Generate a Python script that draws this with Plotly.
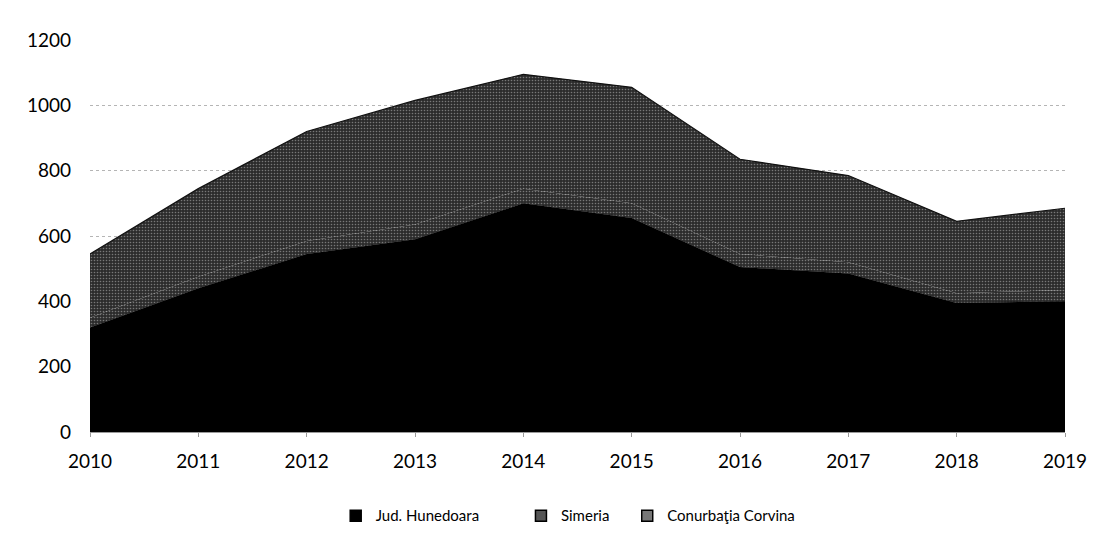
import plotly.graph_objects as go

years = [2010, 2011, 2012, 2013, 2014, 2015, 2016, 2017, 2018, 2019]
hunedoara = [320, 440, 545, 590, 700, 655, 505, 485, 395, 400]
simeria = [30, 35, 40, 45, 45, 45, 40, 35, 30, 35]
corvina = [195, 270, 335, 380, 350, 355, 290, 265, 220, 250]
y_ticks = [0, 200, 400, 600, 800, 1000, 1200]

font_family = "Lato, 'Open Sans', sans-serif"

# grey speckled fill, like the scanned hatching
speckle = dict(shape=".", fgcolor="#c4c4c4", bgcolor="#2c2c2c", size=3, solidity=0.22)

fig = go.Figure()
fig.add_trace(go.Scatter(
    x=years, y=hunedoara, name="Jud. Hunedoara", stackgroup="one",
    mode="lines", line=dict(color="#000000", width=0.5),
    fillcolor="#000000", showlegend=False,
))
fig.add_trace(go.Scatter(
    x=years, y=simeria, name="Simeria", stackgroup="one",
    mode="lines", line=dict(color="#2c2c2c", width=0),
    fillcolor="#2c2c2c", fillpattern=speckle, showlegend=False,
))
fig.add_trace(go.Scatter(
    x=years, y=corvina, name="Conurbaţia Corvina", stackgroup="one",
    mode="lines", line=dict(color="#111111", width=1.2),
    fillcolor="#2c2c2c", fillpattern=speckle, showlegend=False,
))

# legend entries with square keys, one small legend each so they can be spaced like the original
legend_keys = [("Jud. Hunedoara", "#000000", "legend", 0.252),
               ("Simeria", "#555555", "legend2", 0.442),
               ("Conurbaţia Corvina", "#777777", "legend3", 0.551)]
for name, col, leg, _ in legend_keys:
    fig.add_trace(go.Scatter(
        x=[None], y=[None], mode="markers", name=name, legend=leg,
        marker=dict(symbol="square", size=11, color=col, line=dict(color="#000000", width=1.5)),
    ))

legend_style = dict(orientation="h", xanchor="left", y=-0.214, yanchor="middle",
                    font=dict(size=15), itemwidth=30, bgcolor="rgba(0,0,0,0)")

fig.update_layout(
    width=1080, height=524,
    margin=dict(l=82, r=23, t=32, b=100, autoexpand=False),
    paper_bgcolor="white", plot_bgcolor="white",
    font=dict(family=font_family, size=19, color="#000000"),
    showlegend=True,
    legend=dict(x=legend_keys[0][3], **legend_style),
    legend2=dict(x=legend_keys[1][3], **legend_style),
    legend3=dict(x=legend_keys[2][3], **legend_style),
    xaxis=dict(range=[2010, 2019], tickvals=years, ticktext=[str(y) for y in years],
               showgrid=False, showline=True, linecolor="#9a9a9a", linewidth=1,
               ticks="outside", ticklen=4, tickcolor="#9a9a9a", zeroline=False,
               ticklabelstandoff=8, automargin=False),
    yaxis=dict(range=[0, 1200], tickvals=y_ticks, showgrid=True,
               gridcolor="#b5b5b5", griddash="dot", gridwidth=1,
               showline=False, zeroline=False, ticks="", ticklabelstandoff=18,
               automargin=False),
)

fig.write_html("out.html")
